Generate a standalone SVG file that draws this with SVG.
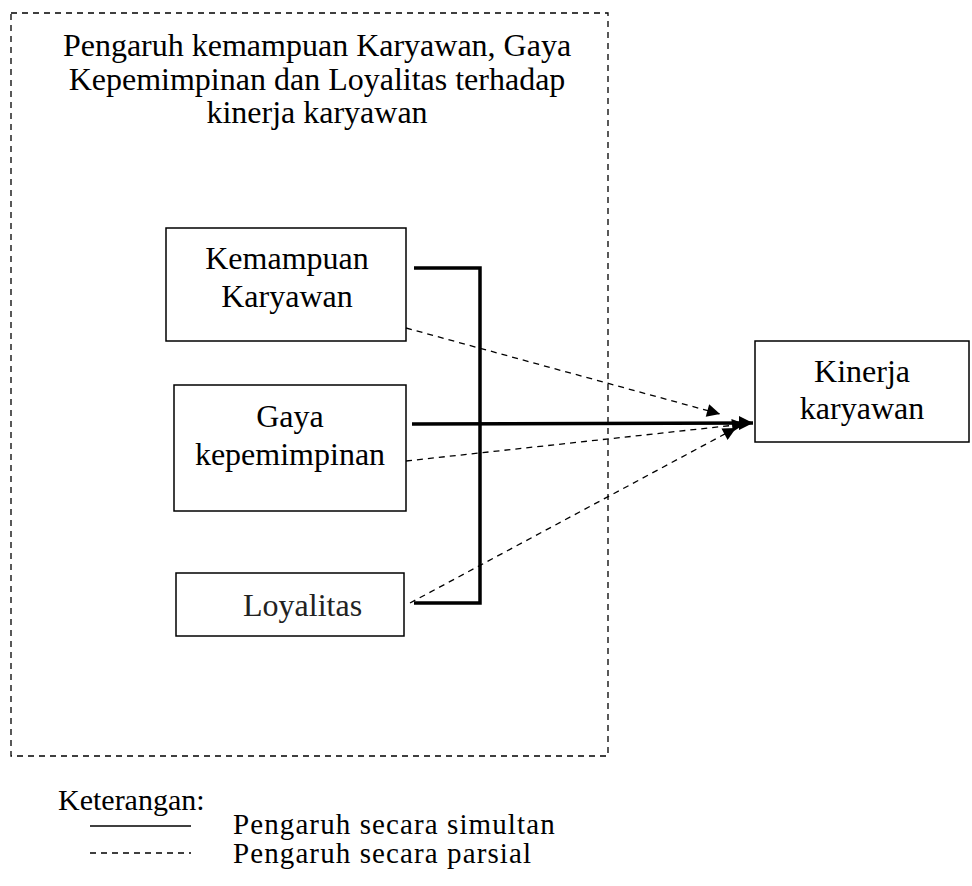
<svg xmlns="http://www.w3.org/2000/svg" width="972" height="886" viewBox="0 0 972 886">
<style>
text{font-family:"Liberation Serif","Times New Roman",serif;font-size:32px;fill:#000}
.c{text-anchor:middle}
.lg{font-size:29px;letter-spacing:1.1px}
.box{fill:#fff;stroke:#000;stroke-width:1.5}
.thick{stroke:#000;stroke-width:3.5;fill:none}
.dash{stroke:#000;stroke-width:1.3;stroke-dasharray:6,5;fill:none}
</style>
<defs>
<marker id="ah" viewBox="0 0 10 10" refX="10" refY="5" markerWidth="20" markerHeight="13" markerUnits="userSpaceOnUse" orient="auto"><path d="M0,0L10,5L0,10z" fill="#000"/></marker>
<marker id="ahb" viewBox="0 0 10 10" refX="10" refY="5" markerWidth="22" markerHeight="14" markerUnits="userSpaceOnUse" orient="auto"><path d="M0,0L10,5L0,10z" fill="#000"/></marker>
</defs>
<rect x="11" y="13" width="597" height="743" fill="none" stroke="#000" stroke-width="1.3" stroke-dasharray="6,5"/>
<g id="title">
<text class="c" x="317" y="56">Pengaruh kemampuan Karyawan, Gaya</text>
<text class="c" x="317" y="90">Kepemimpinan dan Loyalitas terhadap</text>
<text class="c" x="317" y="123">kinerja karyawan</text>
</g>
<g id="kemampuan">
<rect class="box" x="166" y="228" width="240" height="113"/>
<text class="c" x="287" y="269">Kemampuan</text>
<text class="c" x="287" y="307">Karyawan</text>
</g>
<g id="gaya">
<rect class="box" x="174" y="385" width="232" height="126"/>
<text class="c" x="290" y="427">Gaya</text>
<text class="c" x="290" y="465">kepemimpinan</text>
</g>
<g id="loyalitas">
<rect class="box" x="176" y="573" width="228" height="63"/>
<text x="243" y="616" style="fill:#222">Loyalitas</text>
</g>
<g id="kinerja">
<rect class="box" x="755" y="341" width="214" height="101"/>
<text class="c" x="862" y="382">Kinerja</text>
<text class="c" x="862" y="419">karyawan</text>
</g>
<g id="connectors">
<polyline class="thick" points="414,268 480,268 480,603 414,603"/>
<line class="thick" x1="412" y1="424" x2="753" y2="423" marker-end="url(#ahb)"/>
<line class="dash" x1="406" y1="328" x2="720" y2="414" marker-end="url(#ah)"/>
<line class="dash" x1="406" y1="461" x2="745" y2="424" marker-end="url(#ah)"/>
<line class="dash" x1="410" y1="603" x2="736" y2="428" marker-end="url(#ah)"/>
</g>
<g id="legend">
<text x="58" y="810" style="font-size:30px">Keterangan:</text>
<line x1="90" y1="826" x2="191" y2="826" stroke="#000" stroke-width="1.3"/>
<line class="dash" x1="90" y1="853" x2="191" y2="853"/>
<text class="lg" x="233" y="834">Pengaruh secara simultan</text>
<text class="lg" x="233" y="863">Pengaruh secara parsial</text>
</g>
</svg>
